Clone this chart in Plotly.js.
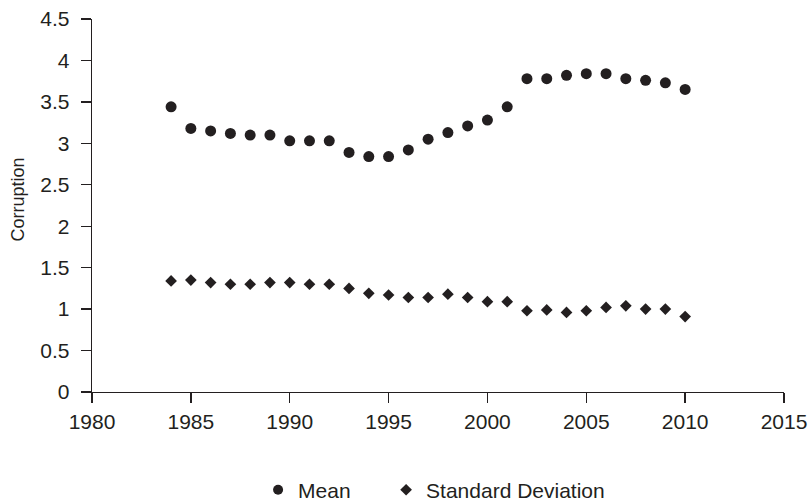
<!DOCTYPE html>
<html>
<head>
<meta charset="utf-8">
<script src="https://cdn.plot.ly/plotly-3.0.1.min.js"></script>
<style>html,body{margin:0;padding:0;background:#fff;}#chart{width:809px;height:504px;}</style>
</head>
<body>
<div id="chart"></div>
<script>
const years = [1984,1985,1986,1987,1988,1989,1990,1991,1992,1993,1994,1995,1996,1997,1998,1999,2000,2001,2002,2003,2004,2005,2006,2007,2008,2009,2010];
const meanValues = [3.44,3.18,3.15,3.12,3.10,3.10,3.03,3.03,3.03,2.89,2.84,2.84,2.92,3.05,3.13,3.21,3.28,3.44,3.78,3.78,3.82,3.84,3.84,3.78,3.76,3.73,3.65];
const sdValues = [1.34,1.35,1.32,1.30,1.30,1.32,1.32,1.30,1.30,1.25,1.19,1.17,1.14,1.14,1.18,1.14,1.09,1.09,0.98,0.99,0.96,0.98,1.02,1.04,1.00,1.00,0.91];
const xTicks = [1980,1985,1990,1995,2000,2005,2010,2015];
const yTicks = [0,0.5,1,1.5,2,2.5,3,3.5,4,4.5];
const seriesNames = ['Mean','Standard Deviation'];
const yTitle = 'Corruption';

const ink = '#231f20';
const traces = [
  {x: years, y: meanValues, type: 'scatter', mode: 'markers', name: seriesNames[0], showlegend: false,
   marker: {symbol: 'circle', size: 11, color: ink}},
  {x: years, y: sdValues, type: 'scatter', mode: 'markers', name: seriesNames[1], showlegend: false,
   marker: {symbol: 'diamond', size: 9, color: ink}},
  {x: [null], y: [null], type: 'scatter', mode: 'markers', name: seriesNames[0], showlegend: true,
   legend: 'legend', marker: {symbol: 'circle', size: 10, color: ink}},
  {x: [null], y: [null], type: 'scatter', mode: 'markers', name: seriesNames[1], showlegend: true,
   legend: 'legend2', marker: {symbol: 'diamond', size: 9, color: ink}}
];

const legendBase = {orientation: 'h', xanchor: 'left', y: -0.208, yanchor: 'top',
                    bgcolor: 'rgba(0,0,0,0)', font: {size: 21, color: ink}};

const layout = {
  width: 809, height: 504,
  margin: {l: 92, r: 25, t: 19, b: 112, autoexpand: false},
  paper_bgcolor: '#fff', plot_bgcolor: '#fff',
  font: {family: 'Liberation Sans, Arial, sans-serif', size: 21, color: ink},
  showlegend: true,
  legend: Object.assign({}, legendBase, {x: 0.24}),
  legend2: Object.assign({}, legendBase, {x: 0.425}),
  xaxis: {range: [1980, 2015], tickvals: xTicks, ticktext: xTicks.map(String),
          showgrid: false, zeroline: false, showline: true, linecolor: ink, linewidth: 1.3,
          ticks: 'outside', ticklen: 10, tickwidth: 1.3, tickcolor: ink,
          tickfont: {size: 21, color: ink}},
  yaxis: {range: [0, 4.5], tickvals: yTicks, ticktext: yTicks.map(String),
          showgrid: false, zeroline: false, showline: true, linecolor: ink, linewidth: 1.3,
          ticks: 'outside', ticklen: 10, tickwidth: 1.3, tickcolor: ink,
          ticklabelstandoff: 7,
          tickfont: {size: 21, color: ink}},
  annotations: [{text: yTitle, xref: 'paper', yref: 'paper', x: -0.107, y: 0.516,
                 xanchor: 'center', yanchor: 'middle', textangle: -90, showarrow: false,
                 font: {size: 18, color: ink}}]
};

Plotly.newPlot('chart', traces, layout, {displayModeBar: false, staticPlot: true});
</script>
</body>
</html>
